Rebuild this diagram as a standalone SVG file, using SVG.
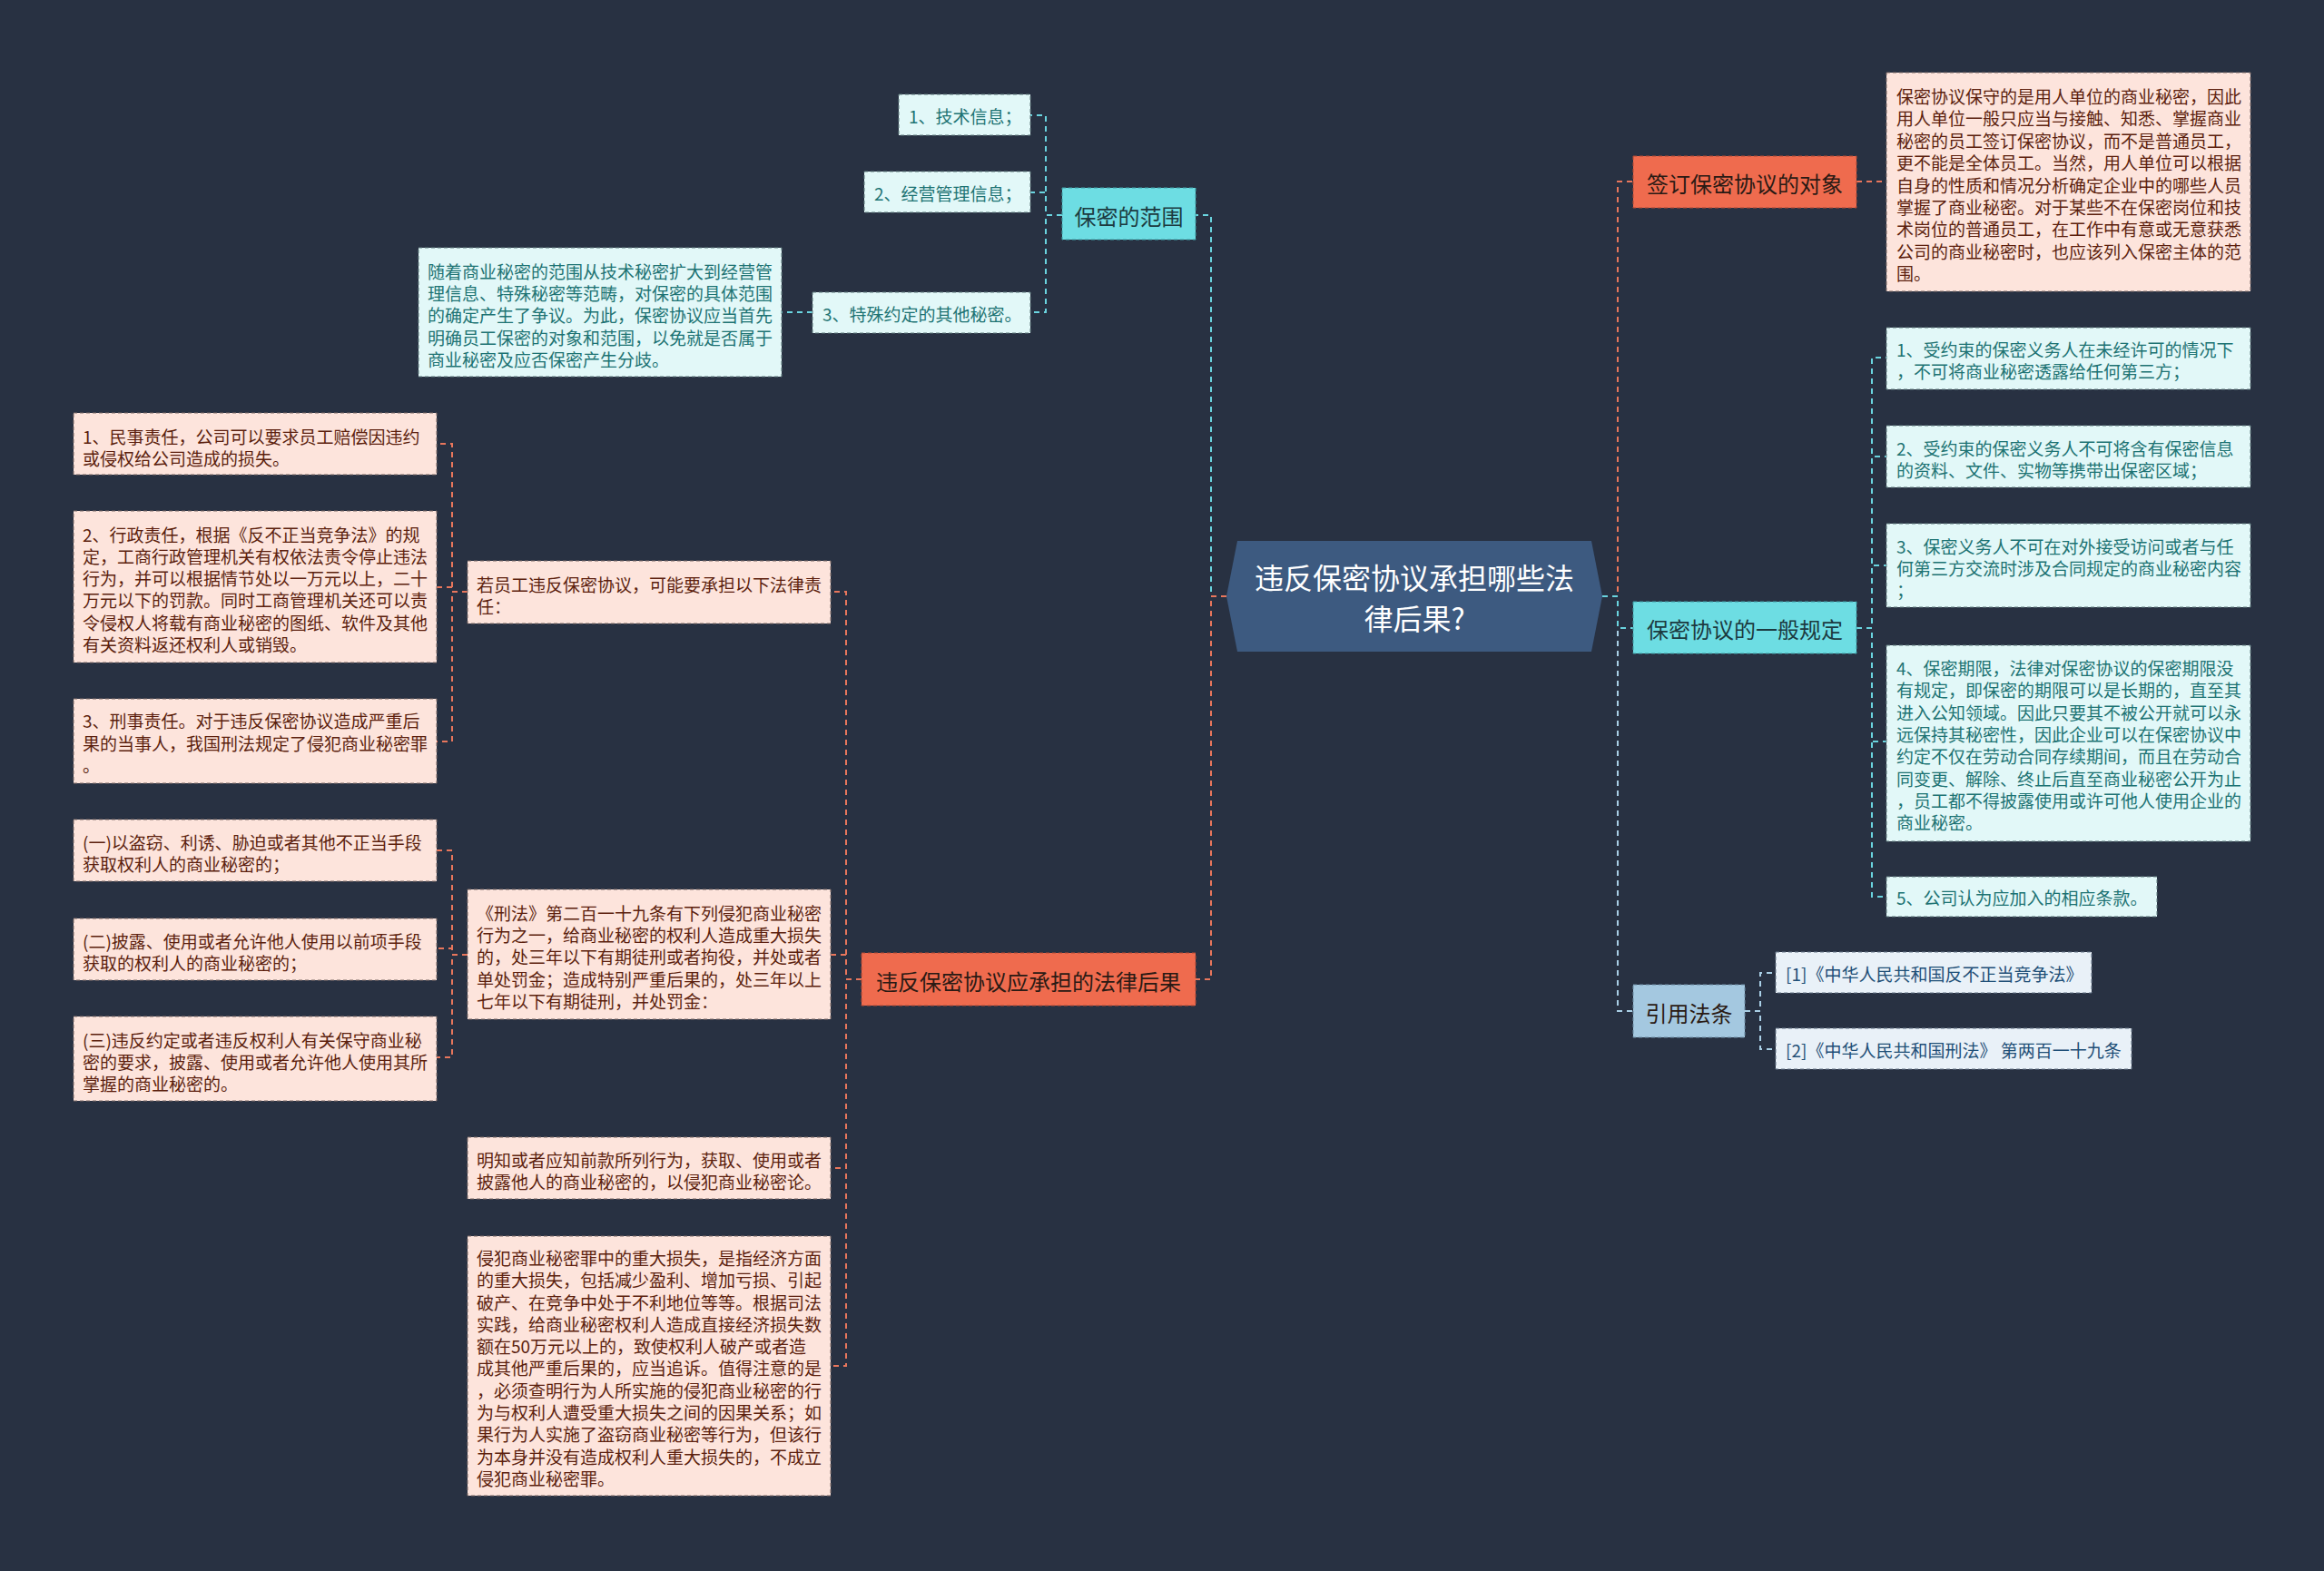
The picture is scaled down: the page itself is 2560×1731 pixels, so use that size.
<svg xmlns="http://www.w3.org/2000/svg" width="2560" height="1731" viewBox="0 0 2560 1731">
<style>
text{font-family:"Noto Sans CJK SC","Noto Sans",sans-serif;dominant-baseline:central}
.edge{fill:none;stroke-width:2;stroke-dasharray:6 5}
.eo{stroke:#e8765c}.ec{stroke:#6ad4df}.eb{stroke:#a9cfe6}
.lo{fill:#fde4dc;stroke:#7d6a66;stroke-width:1;stroke-dasharray:4 3}
.lc{fill:#e2f8f8;stroke:#5f7a7c;stroke-width:1;stroke-dasharray:4 3}
.lb{fill:#e9f1f8;stroke:#667788;stroke-width:1;stroke-dasharray:4 3}
.to{fill:#5c1f0e;font-size:19px}
.tc{fill:#1d7373;font-size:19px}
.tb{fill:#1f4f77;font-size:19px}
.m1o{fill:#ef6b4e;stroke:#b04a34;stroke-width:1;stroke-dasharray:4 3}
.m1c{fill:#6ddde3;stroke:#3f9ea4;stroke-width:1;stroke-dasharray:4 3}
.m1b{fill:#a4c8e0;stroke:#6a8ca3;stroke-width:1;stroke-dasharray:4 3}
.t1{fill:#2a1a14;font-size:24px;text-anchor:middle}
.t1c{fill:#1c3a40;font-size:24px;text-anchor:middle}
</style>
<rect x="0" y="0" width="2560" height="1731" fill="#283142"/>
<g id="connectors">
<path class="edge ec" d="M1351 657H1334V237H1317"/>
<path class="edge eo" d="M1351 657H1334V1079H1317"/>
<path class="edge eo" d="M1765 657H1782V200H1799"/>
<path class="edge eb" d="M1765 657H1782V1114H1799"/>
<path class="edge ec" d="M1765 657H1782V692H1799"/>
<path class="edge ec" d="M1170 237H1152V127H1135"/>
<path class="edge ec" d="M1170 237H1152V212H1135"/>
<path class="edge ec" d="M1170 237H1152V344H1135"/>
<path class="edge ec" d="M895 344H861"/>
<path class="edge eo" d="M2045 200H2078"/>
<path class="edge ec" d="M2045 692H2062V394H2078"/>
<path class="edge ec" d="M2045 692H2062V503H2078"/>
<path class="edge ec" d="M2045 692H2062V623H2078"/>
<path class="edge ec" d="M2045 692H2062V817H2078"/>
<path class="edge ec" d="M2045 692H2062V988H2078"/>
<path class="edge eb" d="M1922 1114H1939V1072H1956"/>
<path class="edge eb" d="M1922 1114H1939V1156H1956"/>
<path class="edge eo" d="M949 1079H932V652H915"/>
<path class="edge eo" d="M949 1079H932V1052H915"/>
<path class="edge eo" d="M949 1079H932V1287H915"/>
<path class="edge eo" d="M949 1079H932V1505H915"/>
<path class="edge eo" d="M515 652H498V489H481"/>
<path class="edge eo" d="M515 652H498V647H481"/>
<path class="edge eo" d="M515 652H498V817H481"/>
<path class="edge eo" d="M515 1052H498V937H481"/>
<path class="edge eo" d="M515 1052H498V1045H481"/>
<path class="edge eo" d="M515 1052H498V1165H481"/>
</g>
<g id="center">
<polygon points="1363,596 1753,596 1765,657 1753,718 1363,718 1351,657" fill="#3d5a80"/>
<text x="1558" y="635" fill="#ffffff" font-size="32" text-anchor="middle">违反保密协议承担哪些法</text>
<text x="1558" y="680" fill="#ffffff" font-size="32" text-anchor="middle">律后果?</text>
</g>
<g id="n-scope">
<rect class="m1c" x="1170" y="207" width="147" height="57"/>
<text class="t1c" x="1243.5" y="237">保密的范围</text>
</g>
<g id="n-scope-1">
<rect class="lc" x="990" y="104" width="145" height="45"/>
<text class="tc" x="1001" y="127">1、技术信息；</text>
</g>
<g id="n-scope-2">
<rect class="lc" x="952" y="189" width="183" height="45"/>
<text class="tc" x="963" y="212">2、经营管理信息；</text>
</g>
<g id="n-scope-3">
<rect class="lc" x="895" y="322" width="240" height="45"/>
<text class="tc" x="906" y="345">3、特殊约定的其他秘密。</text>
</g>
<g id="n-scope-desc">
<rect class="lc" x="461" y="273" width="400" height="142"/>
<text class="tc"><tspan x="471" y="298">随着商业秘密的范围从技术秘密扩大到经营管</tspan><tspan x="471" y="322">理信息、特殊秘密等范畴，对保密的具体范围</tspan><tspan x="471" y="346">的确定产生了争议。为此，保密协议应当首先</tspan><tspan x="471" y="371">明确员工保密的对象和范围，以免就是否属于</tspan><tspan x="471" y="395">商业秘密及应否保密产生分歧。</tspan></text>
</g>
<g id="n-legal">
<rect class="m1o" x="949" y="1050" width="368" height="58"/>
<text class="t1" x="1133" y="1080">违反保密协议应承担的法律后果</text>
</g>
<g id="n-legal-a">
<rect class="lo" x="515" y="618" width="400" height="69"/>
<text class="to"><tspan x="525" y="643">若员工违反保密协议，可能要承担以下法律责</tspan><tspan x="525" y="667">任：</tspan></text>
</g>
<g id="n-legal-a1">
<rect class="lo" x="81" y="455" width="400" height="68"/>
<text class="to"><tspan x="91" y="480">1、民事责任，公司可以要求员工赔偿因违约</tspan><tspan x="91" y="504">或侵权给公司造成的损失。</tspan></text>
</g>
<g id="n-legal-a2">
<rect class="lo" x="81" y="563" width="400" height="167"/>
<text class="to"><tspan x="91" y="588">2、行政责任，根据《反不正当竞争法》的规</tspan><tspan x="91" y="612">定，工商行政管理机关有权依法责令停止违法</tspan><tspan x="91" y="636">行为，并可以根据情节处以一万元以上，二十</tspan><tspan x="91" y="660">万元以下的罚款。同时工商管理机关还可以责</tspan><tspan x="91" y="685">令侵权人将载有商业秘密的图纸、软件及其他</tspan><tspan x="91" y="709">有关资料返还权利人或销毁。</tspan></text>
</g>
<g id="n-legal-a3">
<rect class="lo" x="81" y="770" width="400" height="93"/>
<text class="to"><tspan x="91" y="793">3、刑事责任。对于违反保密协议造成严重后</tspan><tspan x="91" y="818">果的当事人，我国刑法规定了侵犯商业秘密罪</tspan><tspan x="91" y="842">。</tspan></text>
</g>
<g id="n-legal-b">
<rect class="lo" x="515" y="980" width="400" height="143"/>
<text class="to"><tspan x="525" y="1005">《刑法》第二百一十九条有下列侵犯商业秘密</tspan><tspan x="525" y="1029">行为之一，给商业秘密的权利人造成重大损失</tspan><tspan x="525" y="1053">的，处三年以下有期徒刑或者拘役，并处或者</tspan><tspan x="525" y="1078">单处罚金；造成特别严重后果的，处三年以上</tspan><tspan x="525" y="1102">七年以下有期徒刑，并处罚金：</tspan></text>
</g>
<g id="n-legal-b1">
<rect class="lo" x="81" y="903" width="400" height="68"/>
<text class="to"><tspan x="91" y="927">(一)以盗窃、利诱、胁迫或者其他不正当手段</tspan><tspan x="91" y="951">获取权利人的商业秘密的；</tspan></text>
</g>
<g id="n-legal-b2">
<rect class="lo" x="81" y="1012" width="400" height="68"/>
<text class="to"><tspan x="91" y="1036">(二)披露、使用或者允许他人使用以前项手段</tspan><tspan x="91" y="1060">获取的权利人的商业秘密的；</tspan></text>
</g>
<g id="n-legal-b3">
<rect class="lo" x="81" y="1120" width="400" height="93"/>
<text class="to"><tspan x="91" y="1145">(三)违反约定或者违反权利人有关保守商业秘</tspan><tspan x="91" y="1169">密的要求，披露、使用或者允许他人使用其所</tspan><tspan x="91" y="1193">掌握的商业秘密的。</tspan></text>
</g>
<g id="n-legal-c">
<rect class="lo" x="515" y="1253" width="400" height="68"/>
<text class="to"><tspan x="525" y="1277">明知或者应知前款所列行为，获取、使用或者</tspan><tspan x="525" y="1301">披露他人的商业秘密的，以侵犯商业秘密论。</tspan></text>
</g>
<g id="n-legal-d">
<rect class="lo" x="515" y="1362" width="400" height="286"/>
<text class="to"><tspan x="525" y="1385">侵犯商业秘密罪中的重大损失，是指经济方面</tspan><tspan x="525" y="1409">的重大损失，包括减少盈利、增加亏损、引起</tspan><tspan x="525" y="1434">破产、在竞争中处于不利地位等等。根据司法</tspan><tspan x="525" y="1458">实践，给商业秘密权利人造成直接经济损失数</tspan><tspan x="525" y="1482">额在50万元以上的，致使权利人破产或者造</tspan><tspan x="525" y="1506">成其他严重后果的，应当追诉。值得注意的是</tspan><tspan x="525" y="1531">，必须查明行为人所实施的侵犯商业秘密的行</tspan><tspan x="525" y="1555">为与权利人遭受重大损失之间的因果关系；如</tspan><tspan x="525" y="1579">果行为人实施了盗窃商业秘密等行为，但该行</tspan><tspan x="525" y="1604">为本身并没有造成权利人重大损失的，不成立</tspan><tspan x="525" y="1628">侵犯商业秘密罪。</tspan></text>
</g>
<g id="n-target">
<rect class="m1o" x="1799" y="172" width="246" height="57"/>
<text class="t1" x="1922" y="201">签订保密协议的对象</text>
</g>
<g id="n-target-desc">
<rect class="lo" x="2078" y="80" width="401" height="241"/>
<text class="to"><tspan x="2089" y="105">保密协议保守的是用人单位的商业秘密，因此</tspan><tspan x="2089" y="129">用人单位一般只应当与接触、知悉、掌握商业</tspan><tspan x="2089" y="154">秘密的员工签订保密协议，而不是普通员工，</tspan><tspan x="2089" y="178">更不能是全体员工。当然，用人单位可以根据</tspan><tspan x="2089" y="203">自身的性质和情况分析确定企业中的哪些人员</tspan><tspan x="2089" y="227">掌握了商业秘密。对于某些不在保密岗位和技</tspan><tspan x="2089" y="251">术岗位的普通员工，在工作中有意或无意获悉</tspan><tspan x="2089" y="276">公司的商业秘密时，也应该列入保密主体的范</tspan><tspan x="2089" y="300">围。</tspan></text>
</g>
<g id="n-rules">
<rect class="m1c" x="1799" y="663" width="246" height="57"/>
<text class="t1c" x="1922" y="692">保密协议的一般规定</text>
</g>
<g id="n-rules-1">
<rect class="lc" x="2078" y="361" width="401" height="68"/>
<text class="tc"><tspan x="2089" y="384">1、受约束的保密义务人在未经许可的情况下</tspan><tspan x="2089" y="408">，不可将商业秘密透露给任何第三方；</tspan></text>
</g>
<g id="n-rules-2">
<rect class="lc" x="2078" y="469" width="401" height="68"/>
<text class="tc"><tspan x="2089" y="493">2、受约束的保密义务人不可将含有保密信息</tspan><tspan x="2089" y="517">的资料、文件、实物等携带出保密区域；</tspan></text>
</g>
<g id="n-rules-3">
<rect class="lc" x="2078" y="577" width="401" height="92"/>
<text class="tc"><tspan x="2089" y="601">3、保密义务人不可在对外接受访问或者与任</tspan><tspan x="2089" y="625">何第三方交流时涉及合同规定的商业秘密内容</tspan><tspan x="2089" y="649">；</tspan></text>
</g>
<g id="n-rules-4">
<rect class="lc" x="2078" y="711" width="401" height="216"/>
<text class="tc"><tspan x="2089" y="735">4、保密期限，法律对保密协议的保密期限没</tspan><tspan x="2089" y="759">有规定，即保密的期限可以是长期的，直至其</tspan><tspan x="2089" y="784">进入公知领域。因此只要其不被公开就可以永</tspan><tspan x="2089" y="808">远保持其秘密性，因此企业可以在保密协议中</tspan><tspan x="2089" y="832">约定不仅在劳动合同存续期间，而且在劳动合</tspan><tspan x="2089" y="857">同变更、解除、终止后直至商业秘密公开为止</tspan><tspan x="2089" y="881">，员工都不得披露使用或许可他人使用企业的</tspan><tspan x="2089" y="905">商业秘密。</tspan></text>
</g>
<g id="n-rules-5">
<rect class="lc" x="2078" y="966" width="298" height="44"/>
<text class="tc" x="2089" y="988">5、公司认为应加入的相应条款。</text>
</g>
<g id="n-refs">
<rect class="m1b" x="1799" y="1085" width="123" height="58"/>
<text class="t1" x="1860.5" y="1115" fill="#1c2a3a">引用法条</text>
</g>
<g id="n-refs-1">
<rect class="lb" x="1956" y="1049" width="348" height="45"/>
<text class="tb" x="1967" y="1072">[1]《中华人民共和国反不正当竞争法》</text>
</g>
<g id="n-refs-2">
<rect class="lb" x="1956" y="1133" width="392" height="45"/>
<text class="tb" x="1967" y="1156">[2]《中华人民共和国刑法》 第两百一十九条</text>
</g>
</svg>
